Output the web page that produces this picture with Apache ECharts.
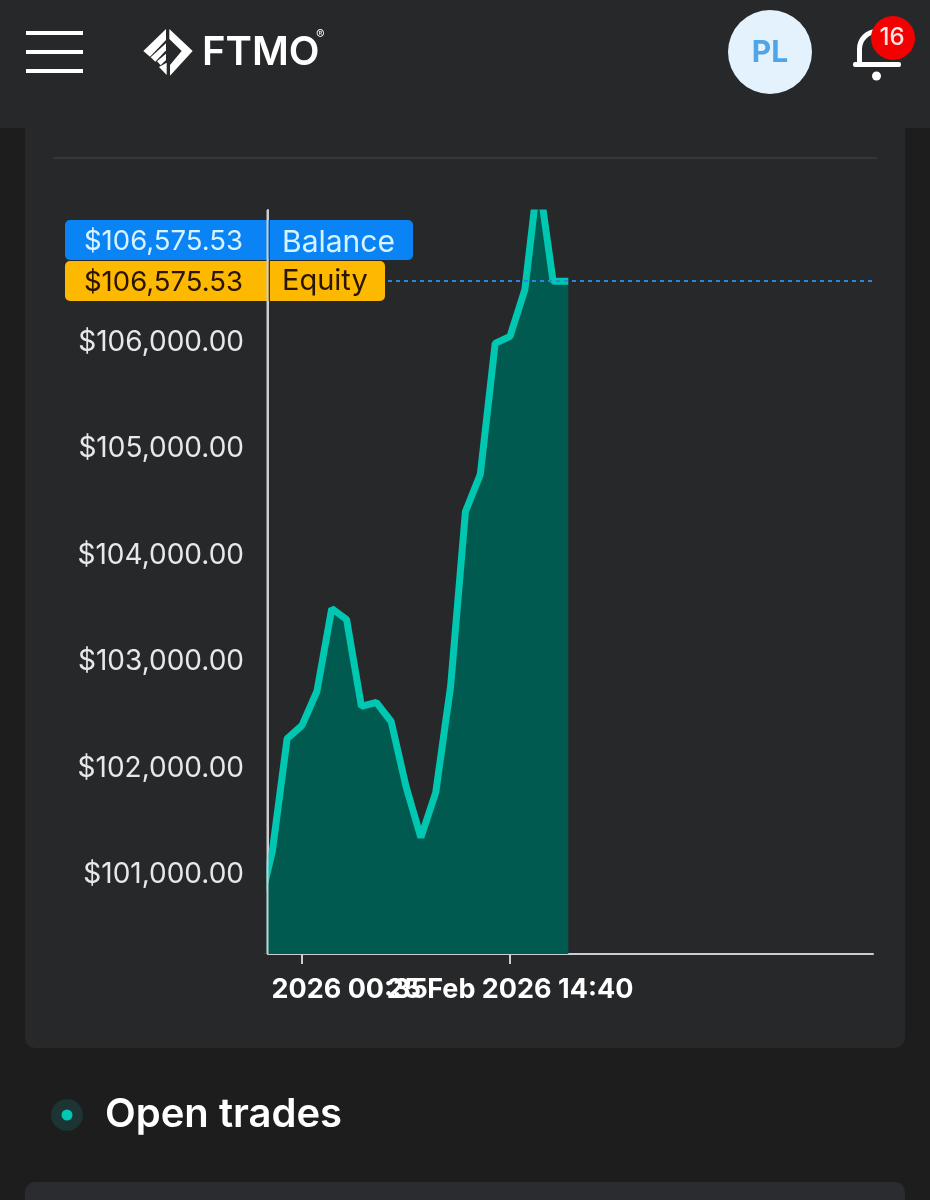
<!DOCTYPE html>
<html><head><meta charset="utf-8">
<script src="https://cdn.jsdelivr.net/npm/echarts@6/dist/echarts.min.js"></script>
<style>html,body{margin:0;padding:0;background:#1d1d1d}#c{width:930px;height:1200px}</style>
</head><body><div id="c"></div>
<script>
const pointIndex = [-1,0,1,2,3,4,5,6,7,8,9,10,11,12,13,14,15,16,17,17.9,18.9,19.92];
const equity = [100624,101216,102278,102401,102720,103500,103397,102579,102617,102438,101827,101348,101771,102767,104412,104760,105991,106057,106498,107570,106575.53,106575.53];
const yTicks = [101000,102000,103000,104000,105000,106000];
const yLabels = ['$101,000.00','$102,000.00','$103,000.00','$104,000.00','$105,000.00','$106,000.00'];
const xTickFirst = [2];
const xTickSecond = [16];
const xLabelFirst = '25 Feb 2026 00:35';
const xLabelSecond = '25 Feb 2026 14:40';
const balanceValue = 106575.53;
const balanceText = '$106,575.53';
const equityText = '$106,575.53';

const FONT = 'Inter, "Noto Sans", sans-serif';
const CARD = '#27282a';
const AXIS = '#c9ced1';
const Y_MIN = 100253, Y_MAX = 107245;
const chart = echarts.init(document.getElementById('c'));
const rect = (x,y,w,h,fill,z,r) => ({type:'rect',silent:true,z:z,shape:{x,y,width:w,height:h,r:r||0},style:{fill}});
const text = (x,y,t,fill,size,weight,z,align) => ({type:'text',silent:true,z:z,x,y,style:{text:t,fill,font:`${weight} ${size}px ${FONT}`,textAlign:align||'left',textVerticalAlign:'middle'}});
const poly = (pts,fill,z) => ({type:'polygon',silent:true,z:z,shape:{points:pts},style:{fill}});
const logoPt = p => [130+p[0]/3, 15+p[1]/3];
const logo = [
 [[118,42],[188,108],[120,182],[120,150],[155,108],[118,72]],
 [[108,42],[108,75],[60,125],[40,108]],
 [[108,85],[108,106],[76,140],[62,127]],
 [[108,116],[108,135],[92,151],[81,139]],
 [[110,143],[110,180],[87,156]]
];
const xAxisOf = (ticks,label,showLine) => ({type:'value',min:-0.289,max:40.43,position:'bottom',
  splitLine:{show:false},
  axisLine:{show:showLine,onZero:false,lineStyle:{color:AXIS,width:2}},
  axisTick:{show:true,length:10,customValues:ticks,lineStyle:{color:AXIS,width:2}},
  axisLabel:{customValues:ticks,margin:22,color:'#ffffff',fontFamily:FONT,fontWeight:700,fontSize:27,hideOverlap:false,
   formatter:()=>label}});
chart.setOption({
 animation:false,
 backgroundColor:'transparent',
 grid:{left:268,top:210,width:605,height:744,containLabel:false},
 xAxis:[xAxisOf(xTickFirst,xLabelFirst,true),xAxisOf(xTickSecond,xLabelSecond,false)],
 yAxis:{type:'value',min:Y_MIN,max:Y_MAX,
  splitLine:{show:false},
  axisLine:{show:true,onZero:false,lineStyle:{color:AXIS,width:2}},
  axisTick:{show:false},
  axisLabel:{customValues:yTicks,margin:24,color:'#e6e8ea',fontFamily:FONT,fontSize:28,
   formatter:v=>yLabels[yTicks.indexOf(v)]||''}},
 series:[{type:'line',xAxisIndex:0,data:pointIndex.map((x,i)=>[x,equity[i]]),clip:true,showSymbol:false,symbol:'none',smooth:false,
  lineStyle:{color:'#00c7b1',width:7,join:'bevel'},
  areaStyle:{color:'#005a50',opacity:1},
  markLine:{silent:true,symbol:'none',label:{show:false},animation:false,
   lineStyle:{color:'#2c86e0',type:[4,4],width:2},
   data:[{yAxis:balanceValue}]},
  markArea:{silent:true,label:{show:false},itemStyle:{color:'rgba(30,130,110,0.14)'},
   data:[[{coord:[18.9,Y_MIN]},{coord:[19.92,balanceValue]}]]}
 }],
 graphic:{elements:[
  rect(0,0,930,1200,'#1d1d1d',-5),
  rect(25,100,880,948,CARD,-4,10),
  rect(0,0,930,128,CARD,-3),
  rect(25,1182,880,30,'#2b2c30',-4,10),
  rect(53,157,824,2,'#35373b',-2),
  // header
  rect(26,31,57,4,'#ffffff',5), rect(26,50,57,4,'#ffffff',5), rect(26,69,57,4,'#ffffff',5),
  ...logo.map(p=>poly(p.map(logoPt),'#ffffff',5)),
  text(202,53,'FTMO','#ffffff',40,600,5),
  text(316,35,'®','#e8e8e8',13,400,5),
  {type:'circle',silent:true,z:5,shape:{cx:770,cy:52,r:42},style:{fill:'#e3f2fd'}},
  text(770,53,'PL','#4ea5e9',30,700,6,'center'),
  {type:'arc',silent:true,z:5,shape:{cx:877,cy:49,r:17.5,startAngle:Math.PI,endAngle:Math.PI*2},style:{fill:'none',stroke:'#ffffff',lineWidth:5}},
  rect(857,49,5,14,'#ffffff',5),
  rect(853,62,48,5,'#ffffff',5,2),
  {type:'circle',silent:true,z:5,shape:{cx:876.5,cy:76,r:4.5},style:{fill:'#ffffff'}},
  {type:'circle',silent:true,z:6,shape:{cx:893,cy:38,r:22},style:{fill:'#f30000'}},
  text(892,38,'16','#ffe3e3',24,500,7,'center'),
  // clipped regions: x label left of the axis, line past the plot edges
  rect(150,970,118,42,CARD,50),
  rect(510,195,60,14.5,CARD,50),
  rect(258,860,8.5,93,CARD,50),
  // tags
  rect(65,220,348,40,'#0a84f5',60,5),
  rect(65,261,320,40,'#fdb900',61,5),
  text(163.5,242,balanceText,'#d6f3ff',27.5,400,62,'center'),
  text(163.5,283,equityText,'#2a1400',27.5,400,62,'center'),
  text(282,243,'Balance','#d6f3ff',30,400,62),
  text(282,281,'Equity','#2a1400',29,400,62),
  rect(266.5,210,2,744,AXIS,65),
  rect(268.5,220,1.5,40,'#0b4fa0',64),
  rect(268.5,261,1.5,40,'#4a3300',64),
  // open trades
  {type:'circle',silent:true,z:5,shape:{cx:67,cy:1115,r:16},style:{fill:'#1c3433'}},
  {type:'circle',silent:true,z:6,shape:{cx:67,cy:1115,r:5.5},style:{fill:'#00c7b1'}},
  text(105,1115,'Open trades','#ffffff',40,600,5)
 ]}
});
</script></body></html>
